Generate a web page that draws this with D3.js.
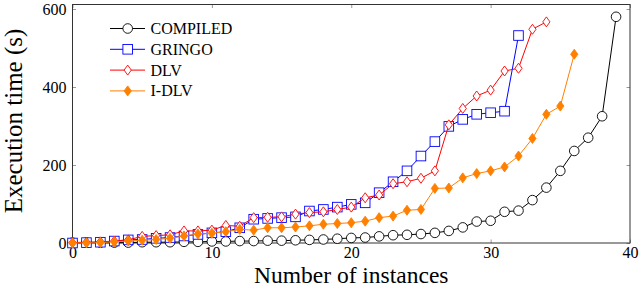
<!DOCTYPE html>
<html>
<head>
<meta charset="utf-8">
<script src="https://cdn.jsdelivr.net/npm/d3@7"></script>
<style>
  body { margin: 0; background: #fff; }
  svg text { font-family: 'Liberation Serif', 'DejaVu Serif', serif; }
</style>
</head>
<body>
<div id="chart"></div>
<script>
// execution times (s), one value per instance index
const compiled = [1, 1, 1, 1, 1, 2, 2, 2, 3, 3, 4, 4, 5, 5, 6, 6, 7, 8, 9, 11,
  13, 14, 17, 20, 21, 23, 26, 31, 40, 55, 57, 80, 83, 110, 142, 185, 236, 270, 325, 580];
const gringo = [0, 1, 2, 5, 8, 9, 12, 14, 18, 22, 26, 29, 39, 61, 63, 65, 67, 82, 86, 92,
  99, 103, 129, 157, 185, 223, 260, 299, 317, 330, 334, 338, 532];
const dlv = [1, 2, 3, 5, 8, 17, 19, 21, 31, 31, 33, 45, 43, 65, 66, 67, 74, 78, 80, 86,
  92, 116, 123, 152, 157, 166, 185, 303, 345, 377, 392, 441, 448, 548, 567];
const idlv = [0, 0, 1, 3, 5, 7, 9, 12, 18, 23, 25, 29, 35, 33, 39, 39, 41, 44, 48, 50,
  52, 56, 65, 69, 84, 86, 140, 141, 167, 178, 185, 195, 223, 268, 330, 351, 484];

const seriesNames = ["COMPILED", "GRINGO", "DLV", "I-DLV"];
const seriesColors = ["#000000", "#0000ff", "#ff0000", "#ff8000"];
const seriesMarks = ["circle", "square", "diamond", "diamondFilled"];
const xTicks = [0, 10, 20, 30, 40];
const yTicks = [0, 200, 400, 600];

const width = 640, height = 288;
const margin = { left: 72.5, right: 10, top: 4.5, bottom: 45 };
const serif = "'Liberation Serif', 'DejaVu Serif', serif";

const svg = d3.select("#chart").append("svg")
  .attr("width", width).attr("height", height);

const x = d3.scaleLinear().domain([0, 40]).range([margin.left, width - margin.right]);
const y = d3.scaleLinear().domain([0, 600]).range([243, 9]);

const plotTop = margin.top, plotBottom = 243;

// ticks on all four sides, pointing inward
const tickColor = "#999";
const axes = [
  { ax: d3.axisBottom(x).tickValues(xTicks), t: `translate(0,${plotBottom})`, labels: true },
  { ax: d3.axisTop(x).tickValues(xTicks), t: `translate(0,${plotTop})`, labels: false },
  { ax: d3.axisLeft(y).tickValues(yTicks), t: `translate(${margin.left},0)`, labels: true },
  { ax: d3.axisRight(y).tickValues(yTicks), t: `translate(${width - margin.right},0)`, labels: false },
];
axes.forEach((a, i) => {
  const g = svg.append("g").attr("transform", a.t)
    .call(a.ax.tickSize(-3.5).tickPadding(i == 0 ? 3.5 : 6))
    .attr("font-family", serif)
    .attr("font-size", 16);
  g.select(".domain").remove();
  g.selectAll(".tick line").attr("stroke", tickColor);
  g.selectAll(".tick text").attr("fill", "#000");
  if (!a.labels) g.selectAll(".tick text").remove();
});

// frame
svg.append("rect")
  .attr("x", margin.left).attr("y", plotTop)
  .attr("width", width - margin.right - margin.left)
  .attr("height", plotBottom - plotTop)
  .attr("fill", "none").attr("stroke", "#333").attr("stroke-width", 1);

function drawMark(g, type, color) {
  if (type == "circle") {
    g.append("circle").attr("r", 4.8)
      .attr("fill", "#fff").attr("stroke", color).attr("stroke-width", 0.9);
  } else if (type == "square") {
    g.append("rect").attr("x", -4.8).attr("y", -4.8).attr("width", 9.6).attr("height", 9.6)
      .attr("fill", "#fff").attr("stroke", color).attr("stroke-width", 0.9);
  } else {
    const filled = type == "diamondFilled";
    g.append("path").attr("d", "M0,-5 L3.6,0 L0,5 L-3.6,0 Z")
      .attr("fill", filled ? color : "#fff").attr("stroke", color).attr("stroke-width", 0.9);
  }
}

const allSeries = [compiled, gringo, dlv, idlv];
const line = d3.line().x((d, i) => x(i)).y(d => y(d));

allSeries.forEach((vals, s) => {
  const g = svg.append("g");
  g.append("path").datum(vals)
    .attr("d", line)
    .attr("fill", "none")
    .attr("stroke", seriesColors[s])
    .attr("stroke-width", 1);
  g.selectAll("g.m").data(vals).join("g")
    .attr("class", "m")
    .attr("transform", (d, i) => `translate(${x(i)},${y(d)})`)
    .each(function () { drawMark(d3.select(this), seriesMarks[s], seriesColors[s]); });
});

// legend
const legend = svg.append("g").attr("font-family", serif);
seriesNames.forEach((name, s) => {
  const ly = 28.5 + s * 20.8;
  legend.append("line")
    .attr("x1", 110).attr("x2", 145).attr("y1", ly).attr("y2", ly)
    .attr("stroke", seriesColors[s]).attr("stroke-width", 1);
  drawMark(legend.append("g").attr("transform", `translate(127.7,${ly})`), seriesMarks[s], seriesColors[s]);
  legend.append("text")
    .attr("x", 150.5).attr("y", ly + 5.5)
    .attr("font-size", 16)
    .text(name);
});

// axis titles
svg.append("text")
  .attr("x", x(20)).attr("y", 282.8)
  .attr("text-anchor", "middle")
  .attr("font-family", serif)
  .attr("font-size", 23.5)
  .text("Number of instances");

svg.append("text")
  .attr("transform", `translate(22,121) rotate(-90)`)
  .attr("text-anchor", "middle")
  .attr("font-family", serif)
  .attr("font-size", 25)
  .text("Execution time (s)");
</script>
</body>
</html>
